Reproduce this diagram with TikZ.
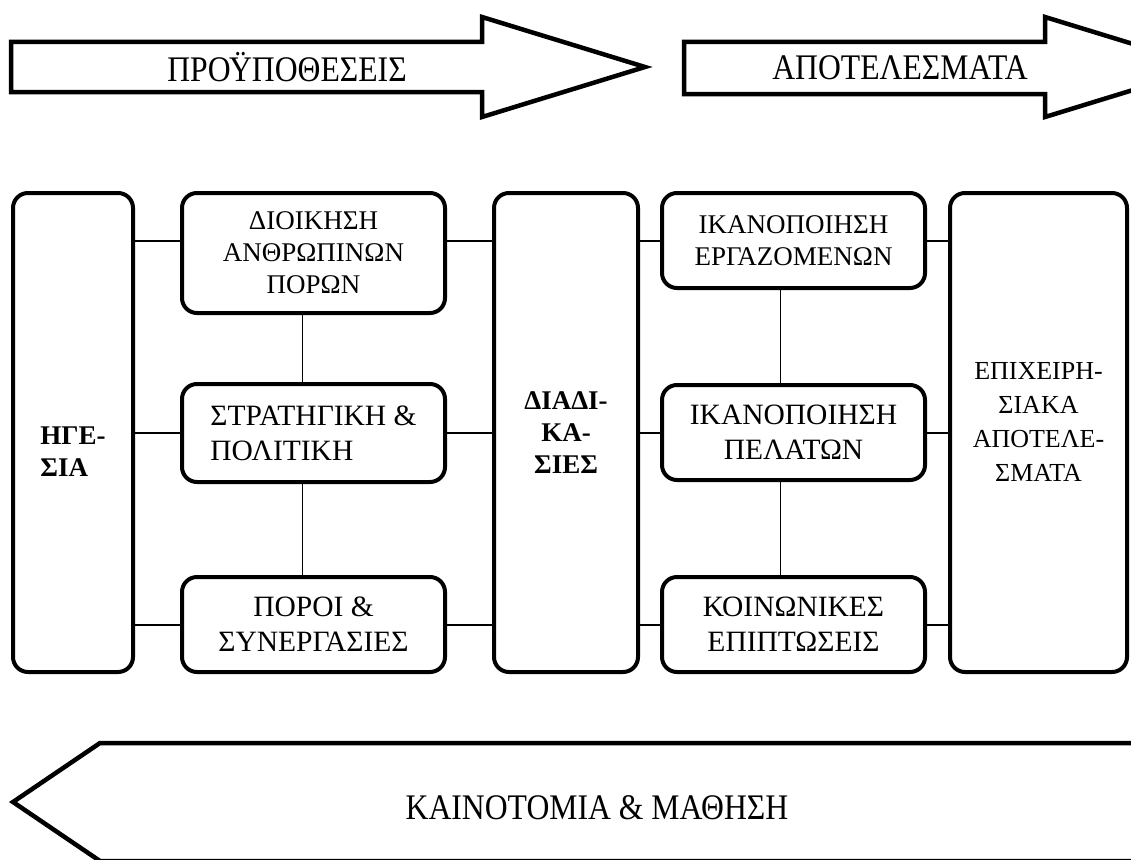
\documentclass[tikz,border=0pt]{standalone}
\usepackage{fontspec}
\setmainfont{Liberation Serif}
\newfontfamily\narrowserif[FakeStretch=0.88]{Liberation Serif}
\begin{document}
\begin{tikzpicture}[x=1pt,y=-1pt,
  box/.style={draw, line width=4pt, rounded corners=15pt, inner sep=0pt,
    align=center, font=\fontsize{29.5}{35}\selectfont},
  smalltext/.style={font=\fontsize{27}{32}\selectfont},
  boldtext/.style={font=\fontsize{27}{32}\selectfont\bfseries, inner sep=0pt},
  link/.style={line width=1.8pt},
  bigarrow/.style={draw, line width=4.5pt, miter limit=20},
  arrowtext/.style={font=\narrowserif\fontsize{36}{40}\selectfont, inner sep=0pt}]
\useasboundingbox (0,0) rectangle (1131,859);
\clip (0,0) rectangle (1131,859);

% levels of the horizontal links
\coordinate (r1) at (0,241);
\coordinate (r2) at (0,433);
\coordinate (r3) at (0,625);

% top arrows
\draw[bigarrow] (11,42) -- (482,42) -- (482,17) -- (645,67) -- (482,117)
  -- (482,92) -- (11,92) -- cycle;
\node[arrowtext] (pre) at (287,67) {ΠΡΟΫΠΟΘΕΣΕΙΣ};
\draw[bigarrow] (684,42) -- (1045,42) -- (1045,17) -- (1208,67) -- (1045,117)
  -- (1045,94) -- (684,94) -- cycle;
\node[arrowtext] (out) at (900,68) {ΑΠΟΤΕΛΕΣΜΑΤΑ};

% enablers
\node[box, minimum width=120pt, minimum height=479pt] (lead) at (73,432.5) {};
\node[boldtext, align=left] (leadtxt) at (lead.center |- 0,452) {ΗΓΕ-\\ΣΙΑ};
\node[box, smalltext, minimum width=263pt, minimum height=120pt]
  (hr) at (313.5,253) {ΔΙΟΙΚΗΣΗ\\ΑΝΘΡΩΠΙΝΩΝ\\ΠΟΡΩΝ};
\node[box, minimum width=263pt, minimum height=98pt, align=left]
  (sp) at (313.5,433) {ΣΤΡΑΤΗΓΙΚΗ \&\\ΠΟΛΙΤΙΚΗ};
\node[box, minimum width=263pt, minimum height=95pt]
  (rs) at (313.5,624.5) {ΠΟΡΟΙ \&\\ΣΥΝΕΡΓΑΣΙΕΣ};
\node[box, minimum width=144pt, minimum height=479pt] (proc) at (566,432.5) {};
\node[boldtext, align=center] (proctxt) at (proc.center |- 0,433) {ΔΙΑΔΙ-\\ΚΑ-\\ΣΙΕΣ};

% results
\node[box, smalltext, minimum width=263pt, minimum height=95pt]
  (emp) at (793.5,240.5) {ΙΚΑΝΟΠΟΙΗΣΗ\\ΕΡΓΑΖΟΜΕΝΩΝ};
\node[box, minimum width=263pt, minimum height=95pt]
  (cust) at (793.5,432.5) {ΙΚΑΝΟΠΟΙΗΣΗ\\ΠΕΛΑΤΩΝ};
\node[box, minimum width=263pt, minimum height=95pt]
  (soc) at (793.5,624.5) {ΚΟΙΝΩΝΙΚΕΣ\\ΕΠΙΠΤΩΣΕΙΣ};
\node[box, minimum width=177pt, minimum height=479pt] (res) at (1038.5,432.5) {};
\node[font=\fontsize{26}{34}\selectfont, align=center, inner sep=0pt]
  (restxt) at (res.center |- 0,422) {ΕΠΙΧΕΙΡΗ-\\ΣΙΑΚΑ\\ΑΠΟΤΕΛΕ-\\ΣΜΑΤΑ};

% horizontal links
\draw[link] (lead.east |- r1) -- (hr.west |- r1);
\draw[link] (lead.east |- r2) -- (sp.west |- r2);
\draw[link] (lead.east |- r3) -- (rs.west |- r3);
\draw[link] (hr.east |- r1) -- (proc.west |- r1);
\draw[link] (sp.east |- r2) -- (proc.west |- r2);
\draw[link] (rs.east |- r3) -- (proc.west |- r3);
\draw[link] (proc.east |- r1) -- (emp.west |- r1);
\draw[link] (proc.east |- r2) -- (cust.west |- r2);
\draw[link] (proc.east |- r3) -- (soc.west |- r3);
\draw[link] (emp.east |- r1) -- (res.west |- r1);
\draw[link] (cust.east |- r2) -- (res.west |- r2);
\draw[link] (soc.east |- r3) -- (res.west |- r3);

% vertical links
\draw[link] ([xshift=-11pt]hr.south) -- ([xshift=-11pt]sp.north);
\draw[link] ([xshift=-11pt]sp.south) -- ([xshift=-11pt]rs.north);
\draw[link] ([xshift=-13pt]emp.south) -- ([xshift=-13pt]cust.north);
\draw[link] ([xshift=-13pt]cust.south) -- ([xshift=-13pt]soc.north);

% bottom arrow
\draw[bigarrow] (1140,743) -- (100,743) -- (13,802) -- (100,861) -- (1140,861);
\node[arrowtext] (learn) at (597,808) {ΚΑΙΝΟΤΟΜΙΑ \& ΜΑΘΗΣΗ};
\end{tikzpicture}
\end{document}
